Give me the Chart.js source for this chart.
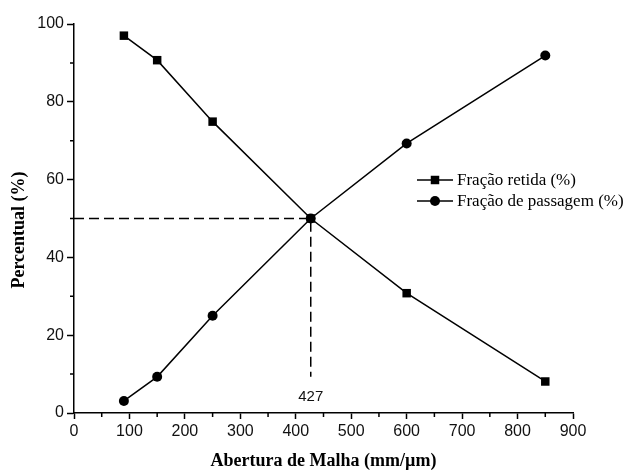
<!DOCTYPE html>
<html lang="pt">
<head>
<meta charset="UTF-8">
<title>Fração retida / passagem</title>
<script src="https://cdn.jsdelivr.net/npm/chart.js"></script>
<style>
    body { margin: 0; padding: 0; background: #fff; }
    #wrap { width: 625px; height: 471px; }
</style>
</head>
<body>
<div id="wrap"><canvas id="grafico" width="625" height="471"></canvas></div>
<script>
    // dados
    const abertura = [90, 150, 250, 427, 600, 850];
    const fracaoRetida = [97, 90.7, 74.9, 50, 30.8, 8.1];
    const fracaoPassagem = [3.1, 9.3, 25, 50, 69.3, 91.9];
    const corte = 427;
    const corteY = 50;
    const corteFim = 9.3;
    const xTicks = [0, 100, 200, 300, 400, 500, 600, 700, 800, 900];
    const yTicks = [0, 20, 40, 60, 80, 100];
    const xMinor = [50, 150, 250, 350, 450, 550, 650, 750, 850];
    const yMinor = [10, 30, 50, 70, 90];

    const pontos = (ys) => abertura.map((x, i) => ({ x: x, y: ys[i] }));

    const extras = {
        id: 'extras',
        afterDraw(chart) {
            const ctx = chart.ctx;
            const xs = chart.scales.x, ys = chart.scales.y;
            ctx.save();
            // minor ticks
            ctx.strokeStyle = '#000';
            ctx.lineWidth = 1.5;
            ctx.beginPath();
            xMinor.forEach(v => {
                const px = xs.getPixelForValue(v);
                ctx.moveTo(px, ys.bottom);
                ctx.lineTo(px, ys.bottom + 4);
            });
            yMinor.forEach(v => {
                const py = ys.getPixelForValue(v);
                ctx.moveTo(xs.left, py);
                ctx.lineTo(xs.left - 4, py);
            });
            ctx.stroke();

            // rótulo do corte
            ctx.fillStyle = '#111';
            ctx.font = '15px "Liberation Sans", Arial, sans-serif';
            ctx.textAlign = 'center';
            ctx.textBaseline = 'middle';
            ctx.fillText(String(corte), xs.getPixelForValue(corte), ys.getPixelForValue(corteFim) + 20);

            // títulos dos eixos
            ctx.fillStyle = '#000';
            ctx.font = 'bold 18px "Liberation Serif", "Times New Roman", serif';
            ctx.fillText('Abertura de Malha (mm/\u00b5m)', (xs.left + xs.right) / 2, 461);
            ctx.save();
            ctx.translate(19, 230);
            ctx.rotate(-Math.PI / 2);
            ctx.fillText('Percentual (%)', 0, 0);
            ctx.restore();

            // legenda
            const linhas = [chart.data.datasets[0], chart.data.datasets[1]];
            ctx.font = '17px "Liberation Serif", "Times New Roman", serif';
            ctx.textAlign = 'left';
            linhas.forEach((ds, i) => {
                const y = 180 + i * 21;
                ctx.strokeStyle = '#000';
                ctx.lineWidth = 1.5;
                ctx.beginPath();
                ctx.moveTo(417, y);
                ctx.lineTo(453, y);
                ctx.stroke();
                ctx.fillStyle = '#000';
                Chart.helpers.drawPoint(ctx, {
                    pointStyle: ds.pointStyle,
                    radius: ds.pointRadius,
                    rotation: 0,
                    borderWidth: 0
                }, 435, y);
                ctx.fillStyle = '#000';
                ctx.fillText(ds.label, 457, y + 1);
            });
            ctx.restore();
        }
    };

    new Chart(document.getElementById('grafico'), {
        type: 'scatter',
        data: {
            datasets: [
                {
                    label: 'Fração retida (%)',
                    data: pontos(fracaoRetida),
                    showLine: true,
                    borderColor: '#000',
                    backgroundColor: '#000',
                    borderWidth: 1.5,
                    pointStyle: 'rect',
                    pointRadius: 6,
                    pointBorderWidth: 0,
                    order: 1
                },
                {
                    label: 'Fração de passagem (%)',
                    data: pontos(fracaoPassagem),
                    showLine: true,
                    borderColor: '#000',
                    backgroundColor: '#000',
                    borderWidth: 1.5,
                    pointStyle: 'circle',
                    pointRadius: 5,
                    pointBorderWidth: 0,
                    order: 2
                },
                {
                    label: 'corte',
                    data: [{ x: 0, y: corteY }, { x: corte, y: corteY }, { x: corte, y: corteFim }],
                    showLine: true,
                    borderColor: '#000',
                    borderWidth: 1.5,
                    borderDash: [10, 5],
                    pointRadius: 0,
                    order: 3
                }
            ]
        },
        options: {
            responsive: false,
            animation: false,
            layout: { padding: { left: 0, top: 24, right: 52, bottom: 0 } },
            plugins: {
                legend: { display: false },
                tooltip: { enabled: false }
            },
            scales: {
                x: {
                    type: 'linear',
                    min: 0,
                    max: 900,
                    afterFit: (s) => { s.height = 58; },
                    afterBuildTicks: (s) => { s.ticks = xTicks.map(v => ({ value: v })); },
                    border: { color: '#000', width: 1.5 },
                    grid: { drawOnChartArea: false, tickLength: 6, tickColor: '#000', tickWidth: 1.5 },
                    ticks: {
                        color: '#111',
                        padding: 3,
                        font: { family: '"Liberation Sans", Arial, sans-serif', size: 16 }
                    }
                },
                y: {
                    min: 0,
                    max: 100,
                    afterFit: (s) => { s.width = 74; },
                    afterBuildTicks: (s) => { s.ticks = yTicks.map(v => ({ value: v })); },
                    border: { color: '#000', width: 1.5 },
                    grid: { drawOnChartArea: false, tickLength: 7, tickColor: '#000', tickWidth: 1.5 },
                    ticks: {
                        color: '#111',
                        padding: 3,
                        font: { family: '"Liberation Sans", Arial, sans-serif', size: 16 }
                    }
                }
            }
        },
        plugins: [extras]
    });
</script>
</body>
</html>
